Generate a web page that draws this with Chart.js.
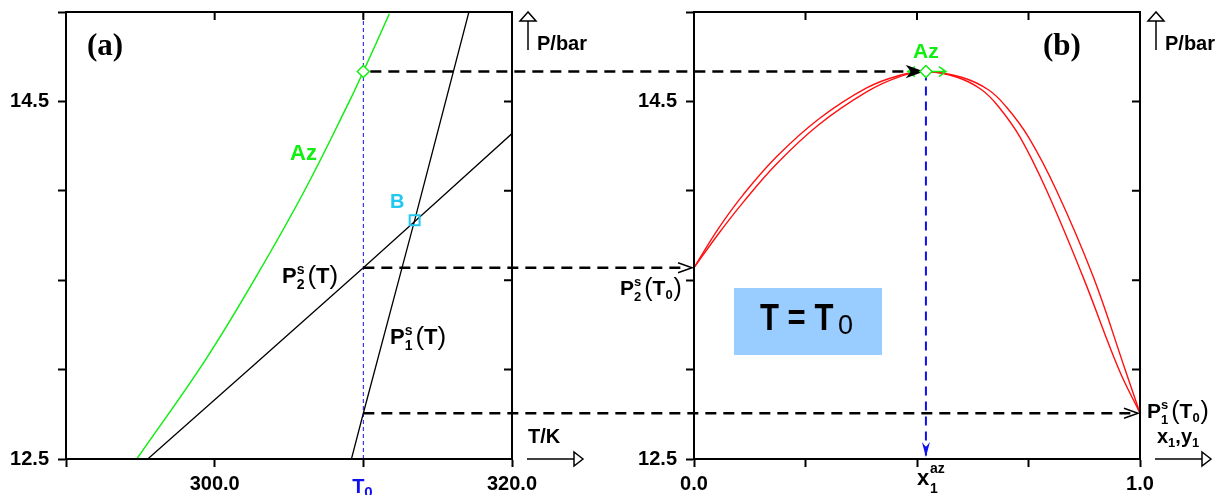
<!DOCTYPE html>
<html>
<head>
<meta charset="utf-8">
<script src="https://cdn.jsdelivr.net/npm/chart.js@4.4.1/dist/chart.umd.min.js"></script>
<style>
html, body { margin: 0; padding: 0; background: #fff; }
#wrap { position: relative; width: 1226px; height: 495px; }
#wrap canvas { position: absolute; left: 0; top: 0; }
</style>
</head>
<body>
<div id="wrap">
  <canvas id="chartA" width="1226" height="495"></canvas>
  <canvas id="chartB" width="1226" height="495"></canvas>
</div>
<script>
// axes
const pMin = 12.5, pMax = 15.0, pStep = 0.5;
const pLabels = [12.5, 14.5];
const tMin = 290, tMax = 320, tStep = 10;
const tLabels = [300, 320];
const xMin = 0, xMax = 1, xStep = 0.25;
const xLabels = [0, 1];
const T0 = 310;

// panel (a): P vs T
const azT = [294.76, 299.36, 302.79, 306.03, 309.06, 310.0, 311.75];
const azP = [12.5, 13.052, 13.52, 13.999, 14.5, 14.667, 14.99];
const p2T = [295.5, 310.0, 320.0];
const p2P = [12.5, 13.57, 14.32];
const p1T = [309.2, 310.0, 313.45, 317.1];
const p1P = [12.5, 12.756, 13.835, 15.0];
const pointB = { x: 313.45, y: 13.835 };

// panel (b): P vs x1,y1 at T = T0
const xAz = 0.52, pAz = 14.667;
const p2AtT0 = 13.57, p1AtT0 = 12.756;
const bubX = [0, 0.055, 0.111, 0.185, 0.279, 0.387, 0.46, 0.52, 0.60, 0.66, 0.70, 0.75, 0.813, 0.895, 0.966, 1];
const bubP = [13.57, 13.79, 13.98, 14.19, 14.40, 14.575, 14.645, 14.667, 14.635, 14.565, 14.47, 14.30, 14.0, 13.52, 13.005, 12.756];
const dewX = [0, 0.055, 0.111, 0.185, 0.279, 0.387, 0.46, 0.52, 0.59, 0.645, 0.683, 0.731, 0.791, 0.872, 0.952, 1];
const dewP = [13.57, 13.76, 13.938, 14.15, 14.368, 14.553, 14.637, 14.667, 14.635, 14.565, 14.47, 14.30, 14.0, 13.52, 13.005, 12.756];

const SANS = '"Liberation Sans", Arial, sans-serif';
const SERIF = '"Liberation Serif", "Times New Roman", serif';
const GREEN = '#11ee11';
const RED = '#ff1010';
const BLUE = '#1010ee';
const CYAN = '#22c8f0';
const tickFont = { family: SANS, size: 20, weight: 'bold' };

function pts(xs, ys) {
  return xs.map((v, i) => ({ x: v, y: ys[i] }));
}
function near(v, list) {
  return list.some(l => Math.abs(l - v) < 1e-6);
}

function xAxis(min, max, step, labels) {
  return {
    type: 'linear', min: min, max: max,
    afterFit: s => { s.height = 36; s.paddingLeft = 0; s.paddingRight = 0; },
    ticks: {
      stepSize: step, autoSkip: false, maxRotation: 0, padding: 5,
      color: '#000', font: tickFont,
      callback: v => near(v, labels) ? v.toFixed(1) : ''
    },
    grid: { drawOnChartArea: false, tickLength: 8, tickWidth: 2, tickColor: '#000', color: '#000' },
    border: { color: '#000', width: 2 }
  };
}
function yAxis(width) {
  return {
    type: 'linear', min: pMin, max: pMax,
    afterFit: s => { s.width = width; s.paddingTop = 0; s.paddingBottom = 0; },
    ticks: {
      stepSize: pStep, autoSkip: false, padding: 9,
      color: '#000', font: tickFont,
      callback: v => near(v, pLabels) ? v.toFixed(1) : ''
    },
    grid: { drawOnChartArea: false, tickLength: 8, tickWidth: 2, tickColor: '#000', color: '#000' },
    border: { color: '#000', width: 2 }
  };
}

// P with sub/superscript, e.g. P_2^s(T_0)
function drawPs(ctx, x, y, idx, arg, argSub, size) {
  const small = Math.round(size * 0.64);
  ctx.save();
  ctx.fillStyle = '#000';
  ctx.textAlign = 'left';
  ctx.textBaseline = 'alphabetic';
  ctx.font = 'bold ' + size + 'px ' + SANS;
  ctx.fillText('P', x, y);
  let cx = x + ctx.measureText('P').width;
  ctx.font = 'bold ' + small + 'px ' + SANS;
  ctx.fillText('s', cx, y - size * 0.42);
  ctx.fillText(idx, cx, y + size * 0.28);
  cx += Math.max(ctx.measureText('s').width, ctx.measureText(idx).width) + 3;
  ctx.font = (size + 4) + 'px ' + SANS;
  ctx.fillText('(', cx, y + 1);
  cx += ctx.measureText('(').width;
  ctx.font = 'bold ' + size + 'px ' + SANS;
  ctx.fillText(arg, cx, y);
  cx += ctx.measureText(arg).width;
  if (argSub) {
    ctx.font = 'bold ' + small + 'px ' + SANS;
    ctx.fillText(argSub, cx, y + size * 0.2);
    cx += ctx.measureText(argSub).width + 1;
  }
  ctx.font = (size + 4) + 'px ' + SANS;
  ctx.fillText(')', cx, y + 1);
  ctx.restore();
}

function frameAndTicks(chart) {
  const { ctx, chartArea: ca, scales } = chart;
  ctx.save();
  ctx.strokeStyle = '#000';
  ctx.lineWidth = 2;
  ctx.strokeRect(ca.left, ca.top, ca.width, ca.height);
  ctx.beginPath();
  scales.y.ticks.forEach(t => {
    const py = scales.y.getPixelForValue(t.value);
    ctx.moveTo(ca.right, py); ctx.lineTo(ca.right - 8, py);
  });
  scales.x.ticks.forEach(t => {
    const px = scales.x.getPixelForValue(t.value);
    ctx.moveTo(px, ca.top); ctx.lineTo(px, ca.top + 8);
  });
  ctx.stroke();
  ctx.restore();
}

function hollowHead(ctx, tx, ty, dir) {
  ctx.beginPath();
  if (dir === 'up') {
    ctx.moveTo(tx, ty); ctx.lineTo(tx - 8, ty + 9); ctx.lineTo(tx + 8, ty + 9);
  } else {
    ctx.moveTo(tx, ty); ctx.lineTo(tx - 9, ty - 7); ctx.lineTo(tx - 9, ty + 7);
  }
  ctx.closePath();
  ctx.fillStyle = '#fff';
  ctx.fill();
  ctx.stroke();
}

function axisArrows(chart, xName, xSub) {
  const { ctx, chartArea: ca } = chart;
  ctx.save();
  ctx.strokeStyle = '#000';
  ctx.lineWidth = 1.5;
  const ax = ca.right + 16;
  ctx.beginPath(); ctx.moveTo(ax, 50); ctx.lineTo(ax, 21); ctx.stroke();
  hollowHead(ctx, ax, 12, 'up');
  ctx.fillStyle = '#000';
  ctx.font = 'bold 20px ' + SANS;
  ctx.textAlign = 'left';
  ctx.fillText('P/bar', ca.right + 25, 50);
  const by = ca.bottom;
  ctx.beginPath(); ctx.moveTo(ca.right + 15, by); ctx.lineTo(ca.right + 62, by); ctx.stroke();
  hollowHead(ctx, ca.right + 71, by, 'right');
  ctx.fillStyle = '#000';
  if (xSub) {
    ctx.font = 'bold 20px ' + SANS;
    let cx = ca.right + 17;
    ctx.fillText('x', cx, 443); cx += ctx.measureText('x').width;
    ctx.font = 'bold 13px ' + SANS;
    ctx.fillText('1', cx, 447); cx += ctx.measureText('1').width;
    ctx.font = 'bold 20px ' + SANS;
    ctx.fillText(',y', cx, 443); cx += ctx.measureText(',y').width;
    ctx.font = 'bold 13px ' + SANS;
    ctx.fillText('1', cx, 447);
  } else {
    ctx.font = 'bold 20px ' + SANS;
    ctx.fillText(xName, ca.right + 16, 443);
  }
  ctx.restore();
}

const decoA = {
  id: 'decoA',
  afterDatasetsDraw(chart) {
    const { ctx, scales: { x } } = chart;
    frameAndTicks(chart);
    axisArrows(chart, 'T/K', false);
    ctx.save();
    ctx.textAlign = 'left';
    ctx.textBaseline = 'alphabetic';
    ctx.fillStyle = '#000';
    ctx.font = 'bold 31px ' + SERIF;
    ctx.fillText('(a)', 87, 55);
    ctx.fillStyle = GREEN;
    ctx.font = 'bold 22px ' + SANS;
    ctx.fillText('Az', 290, 160);
    ctx.fillStyle = CYAN;
    ctx.font = 'bold 20px ' + SANS;
    ctx.fillText('B', 390, 208);
    drawPs(ctx, 282, 283, '2', 'T', '', 22);
    drawPs(ctx, 390, 344, '1', 'T', '', 22);
    // T0 tick label
    const px = x.getPixelForValue(T0);
    ctx.fillStyle = BLUE;
    ctx.font = 'bold 20px ' + SANS;
    ctx.fillText('T', px - 11, 493);
    ctx.font = 'bold 15px ' + SANS;
    ctx.fillText('0', px + 1, 497);
    ctx.restore();
  }
};

const chartA = new Chart(document.getElementById('chartA'), {
  type: 'line',
  data: {
    datasets: [
      { data: [{ x: T0, y: pAz }], showLine: false, pointStyle: 'rectRot', pointRadius: 6,
        pointBackgroundColor: '#fff', pointBorderColor: GREEN, pointBorderWidth: 1.5 },
      { data: [pointB], showLine: false, pointStyle: 'rect', pointRadius: 7,
        pointBackgroundColor: 'rgba(0,0,0,0)', pointBorderColor: CYAN, pointBorderWidth: 2 },
      { data: pts(azT, azP), borderColor: GREEN, borderWidth: 1.5, pointRadius: 0, tension: 0.4 },
      { data: pts(p2T, p2P), borderColor: '#000', borderWidth: 1.3, pointRadius: 0, tension: 0.3 },
      { data: pts(p1T, p1P), borderColor: '#000', borderWidth: 1.3, pointRadius: 0 },
      { data: [{ x: T0, y: pMin }, { x: T0, y: pMax }], borderColor: BLUE, borderWidth: 1, borderDash: [4, 3], pointRadius: 0 }
    ]
  },
  options: {
    responsive: false,
    animation: false,
    devicePixelRatio: 1,
    layout: { padding: { left: 0, right: 714, top: 12, bottom: 0 } },
    plugins: { legend: { display: false }, tooltip: { enabled: false } },
    scales: { x: xAxis(tMin, tMax, tStep, tLabels), y: yAxis(66) }
  },
  plugins: [decoA]
});

function dashedArrow(ctx, x1, y1, x2, y2, filled) {
  ctx.save();
  ctx.strokeStyle = '#000';
  ctx.lineWidth = 2.5;
  ctx.setLineDash([11, 7]);
  ctx.beginPath(); ctx.moveTo(x1, y1); ctx.lineTo(x2 - 6, y2); ctx.stroke();
  ctx.setLineDash([]);
  ctx.lineWidth = 1.5;
  ctx.beginPath();
  ctx.moveTo(x2 - 14, y2 - 5); ctx.lineTo(x2, y2); ctx.lineTo(x2 - 14, y2 + 5);
  if (filled) {
    ctx.lineTo(x2 - 10, y2); ctx.closePath();
    ctx.fillStyle = '#000'; ctx.fill();
  }
  ctx.stroke();
  ctx.restore();
}

const decoB = {
  id: 'decoB',
  beforeDatasetsDraw(chart) {
    const { ctx } = chart;
    ctx.save();
    ctx.fillStyle = '#99ccff';
    ctx.fillRect(734, 288, 148, 67);
    ctx.fillStyle = '#000';
    ctx.textAlign = 'left';
    ctx.save();
    ctx.translate(760, 330);
    ctx.scale(0.84, 1);
    ctx.font = 'bold 37px ' + SANS;
    ctx.fillText('T = T', 0, 0);
    ctx.restore();
    ctx.font = '27px ' + SANS;
    ctx.fillText('0', 838, 334);
    ctx.restore();
  },
  afterDatasetsDraw(chart) {
    const { ctx, scales: { x, y } } = chart;
    frameAndTicks(chart);
    axisArrows(chart, '', true);
    const sx = chartA.scales.x.getPixelForValue(T0);
    const yAz = y.getPixelForValue(pAz);
    const pxAz = x.getPixelForValue(xAz);
    // green double arrow around the azeotrope
    ctx.save();
    ctx.strokeStyle = GREEN;
    ctx.lineWidth = 1.5;
    ctx.beginPath();
    ctx.moveTo(pxAz - 18, yAz); ctx.lineTo(pxAz + 20, yAz);
    ctx.moveTo(pxAz - 11, yAz - 5); ctx.lineTo(pxAz - 18, yAz); ctx.lineTo(pxAz - 11, yAz + 5);
    ctx.moveTo(pxAz + 13, yAz - 5); ctx.lineTo(pxAz + 20, yAz); ctx.lineTo(pxAz + 13, yAz + 5);
    ctx.stroke();
    ctx.restore();
    // dashed black links from panel (a)
    dashedArrow(ctx, sx + 7, yAz, pxAz - 4, yAz, true);
    dashedArrow(ctx, sx, y.getPixelForValue(p2AtT0), x.getPixelForValue(0) - 2, y.getPixelForValue(p2AtT0), false);
    dashedArrow(ctx, sx, y.getPixelForValue(p1AtT0), x.getPixelForValue(1) - 2, y.getPixelForValue(p1AtT0), false);
    // diamond on top
    ctx.save();
    ctx.strokeStyle = GREEN; ctx.fillStyle = '#fff'; ctx.lineWidth = 1.5;
    ctx.beginPath();
    ctx.moveTo(pxAz, yAz - 6); ctx.lineTo(pxAz + 6, yAz); ctx.lineTo(pxAz, yAz + 6); ctx.lineTo(pxAz - 6, yAz);
    ctx.closePath(); ctx.fill(); ctx.stroke();
    // blue arrow head
    const yb = y.getPixelForValue(pMin);
    ctx.fillStyle = BLUE;
    ctx.beginPath();
    ctx.moveTo(pxAz, yb - 2); ctx.lineTo(pxAz - 4, yb - 17); ctx.lineTo(pxAz, yb - 12); ctx.lineTo(pxAz + 4, yb - 17);
    ctx.closePath(); ctx.fill();
    // texts
    ctx.textAlign = 'left';
    ctx.fillStyle = '#000';
    ctx.font = 'bold 31px ' + SERIF;
    ctx.fillText('(b)', 1043, 55);
    ctx.fillStyle = GREEN;
    ctx.font = 'bold 21px ' + SANS;
    ctx.fillText('Az', 913, 58);
    drawPs(ctx, 620, 295, '2', 'T', '0', 21);
    drawPs(ctx, 1147, 418, '1', 'T', '0', 21);
    // x1^az tick label
    ctx.fillStyle = '#000';
    ctx.font = 'bold 22px ' + SANS;
    ctx.fillText('x', 917, 485);
    ctx.font = 'bold 14px ' + SANS;
    ctx.fillText('1', 930, 493);
    ctx.fillText('az', 930, 473);
    ctx.restore();
  }
};

const chartB = new Chart(document.getElementById('chartB'), {
  type: 'line',
  data: {
    datasets: [
      { data: pts(bubX, bubP), borderColor: RED, borderWidth: 1.4, pointRadius: 0, tension: 0.4 },
      { data: pts(dewX, dewP), borderColor: RED, borderWidth: 1.4, pointRadius: 0, tension: 0.4 },
      { data: [{ x: xAz, y: pAz }, { x: xAz, y: pMin }], borderColor: BLUE, borderWidth: 2, borderDash: [9, 6], pointRadius: 0 }
    ]
  },
  options: {
    responsive: false,
    animation: false,
    devicePixelRatio: 1,
    layout: { padding: { left: 628, right: 86, top: 12, bottom: 0 } },
    plugins: { legend: { display: false }, tooltip: { enabled: false } },
    scales: { x: xAxis(xMin, xMax, xStep, xLabels), y: yAxis(66) }
  },
  plugins: [decoB]
});
</script>
</body>
</html>
